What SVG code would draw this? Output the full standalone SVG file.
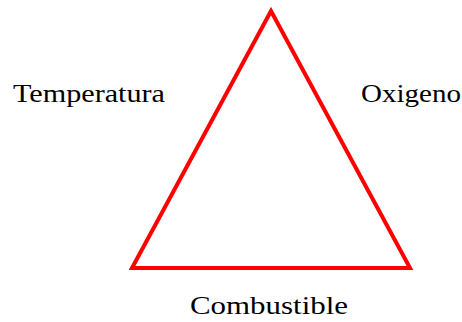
<svg xmlns="http://www.w3.org/2000/svg" width="462" height="322" viewBox="0 0 462 322">
<style>
.lbl{font-family:"Liberation Serif","DejaVu Serif",serif;font-size:25px;fill:#000}
.tri{fill:none;stroke:#ff0000;stroke-width:4;stroke-linejoin:miter}
</style>
<rect width="462" height="322" fill="#fff"/>
<g id="triangle"><polygon class="tri" points="271,11 132,268 410,268"/></g>
<g id="temperatura"><text class="lbl" x="13" y="102" textLength="152" lengthAdjust="spacingAndGlyphs">Temperatura</text></g>
<g id="oxigeno"><text class="lbl" x="361" y="102" textLength="100" lengthAdjust="spacingAndGlyphs">Oxigeno</text></g>
<g id="combustible"><text class="lbl" x="190" y="314" textLength="158" lengthAdjust="spacingAndGlyphs">Combustible</text></g>
</svg>
